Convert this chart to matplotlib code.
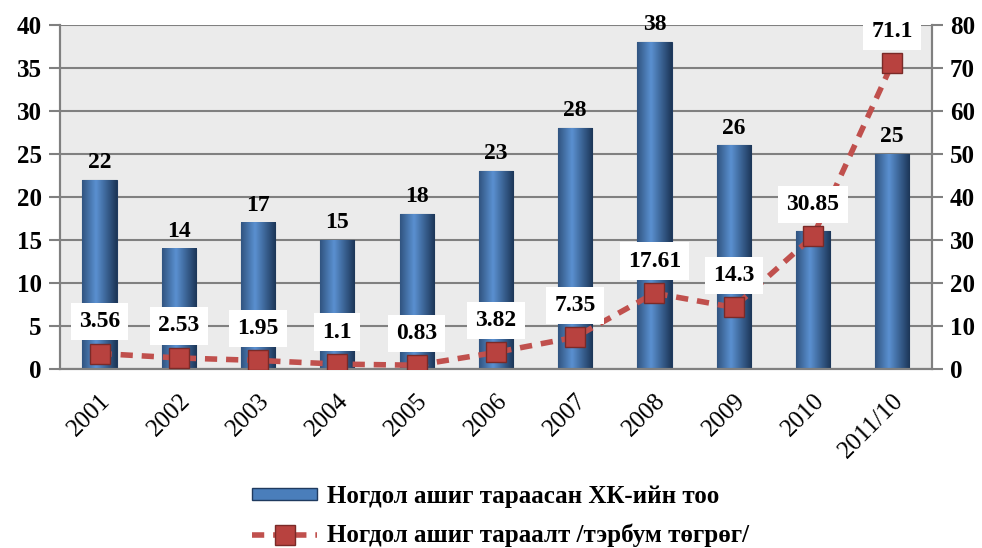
import numpy as np
import matplotlib
matplotlib.use('Agg')
import matplotlib.pyplot as plt
from matplotlib.lines import Line2D
from matplotlib.patches import Patch

plt.rcParams['font.family'] = ['Liberation Serif', 'DejaVu Serif']

years = ['2001', '2002', '2003', '2004', '2005', '2006', '2007', '2008', '2009', '2010', '2011/10']
companies = [22, 14, 17, 15, 18, 23, 28, 38, 26, 16, 25]
# the 2010 bar label is hidden behind the 30.85 box in the original
company_labels = ['22', '14', '17', '15', '18', '23', '28', '38', '26', '', '25']
dividends = [3.56, 2.53, 1.95, 1.1, 0.83, 3.82, 7.35, 17.61, 14.3, 30.85, 71.1]
dividend_labels = ['3.56', '2.53', '1.95', '1.1', '0.83', '3.82', '7.35', '17.61', '14.3', '30.85', '71.1']

bar_label = 'Ногдол ашиг тараасан ХК-ийн тоо'
line_label = 'Ногдол ашиг тараалт /тэрбум төгрөг/'

fig = plt.figure(figsize=(9.82, 5.48), dpi=100)
ax = fig.add_axes([0.061, 0.327, 0.888, 0.627])
ax2 = ax.twinx()

x = np.arange(len(years))
ax.set_facecolor('#ebebeb')
bars = ax.bar(x, companies, width=0.43, color='#4a7ebb', edgecolor='#1f3a5f',
              linewidth=0.8, zorder=2)

# simple horizontal shading on each bar
grad = np.linspace(0, 1, 64)
shade = np.clip(1 - np.abs(grad - 0.4) * 1.6, 0, 1)
cmap = matplotlib.colors.LinearSegmentedColormap.from_list('b', ['#1c3658', '#5a90d0'])
for b, lab in zip(bars, company_labels):
    x0, w, h = b.get_x(), b.get_width(), b.get_height()
    ax.imshow(shade[np.newaxis, :], extent=(x0, x0 + w, 0, h), cmap=cmap,
              aspect='auto', zorder=2.1, interpolation='bicubic')
    if lab:
        ax.annotate(lab, (x0 + w / 2, h), xytext=(0, 5), textcoords='offset points',
                    ha='center', va='bottom', fontsize=17, fontweight='bold', zorder=3)

ax.set_xlim(-0.5, len(years) - 0.5)
ax.set_ylim(0, 40)
ax.set_yticks(range(0, 41, 5))
ax.grid(axis='y', color='#808080', linewidth=1.5, zorder=1)
ax.set_axisbelow(True)

ax2.plot(x, dividends, color='#c0504d', linewidth=4, dashes=(2.2, 1.6),
         marker='s', markersize=14, markerfacecolor='#b8423f',
         markeredgecolor='#7a2a28', markeredgewidth=1, zorder=4)
ax2.set_ylim(0, 80)
ax2.set_yticks(range(0, 81, 10))
for xi, v, lab in zip(x, dividends, dividend_labels):
    ax2.annotate(lab, (xi, v), xytext=(0, 23), textcoords='offset points',
                 ha='center', va='center', fontsize=17, fontweight='bold', zorder=6,
                 bbox=dict(boxstyle='square,pad=0.35', facecolor='white', edgecolor='none'))

for a in (ax, ax2):
    for s in a.spines.values():
        s.set_color('#808080')
        s.set_linewidth(1.5)
    a.spines['top'].set_visible(False)
    a.tick_params(axis='y', length=8, width=1.5, color='#808080', labelsize=18, pad=5)
    for t in a.get_yticklabels():
        t.set_fontweight('bold')

ax.set_xticks(x)
ax.set_xticklabels(years, rotation=45, ha='right', rotation_mode='anchor', fontsize=18)
ax.tick_params(axis='x', length=0, pad=15)

handles = [
    Patch(facecolor='#4a7ebb', edgecolor='#1f3a5f'),
    Line2D([0], [0], color='#c0504d', linewidth=4, dashes=(2.2, 1.6), marker='s',
           markersize=14, markerfacecolor='#b8423f', markeredgecolor='#7a2a28'),
]
fig.legend(handles, [bar_label, line_label], loc='lower center', bbox_to_anchor=(0.51, -0.04),
           frameon=False, prop={'size': 18, 'weight': 'bold'}, labelspacing=0.65,
           handlelength=2.6, handleheight=0.35, handletextpad=0.4)

fig.savefig('out.png', dpi=100)
